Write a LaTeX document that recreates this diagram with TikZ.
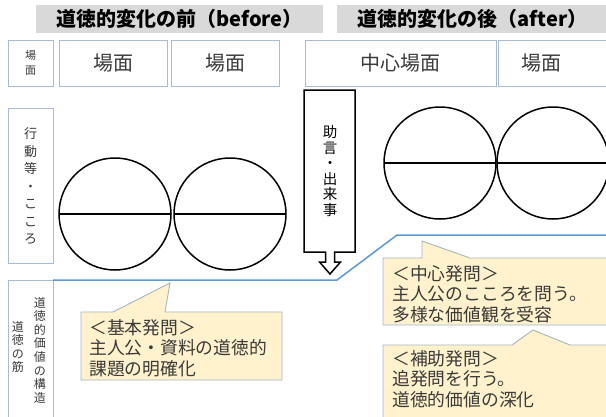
\documentclass[tikz,border=0pt]{standalone}
\usepackage{fontspec}
\setmainfont{Noto Sans CJK JP}
\definecolor{boxc}{HTML}{A7BBD3}
\definecolor{hdrgray}{HTML}{D9D9D9}
\definecolor{bline}{HTML}{5B9BD5}
\definecolor{callfill}{HTML}{FFF2CC}
\definecolor{calldraw}{HTML}{A3B5C8}
\definecolor{txtc}{HTML}{3A3A3A}
\begin{document}
\begin{tikzpicture}[x=1pt,y=-1pt,
  hdr/.style={fill=hdrgray, inner sep=0pt, outer sep=0pt, minimum height=28pt,
    font=\fontsize{20}{24}\selectfont\bfseries, text=black},
  scenebox/.style={draw=boxc, line width=0.9pt, fill=white, inner sep=0pt, outer sep=0pt,
    minimum height=46pt, font=\fontsize{20}{24}\selectfont, text=txtc},
  labbox/.style={draw=boxc, line width=0.9pt, fill=white, inner sep=0pt, outer sep=0pt,
    minimum width=45pt},
  vtxt/.style={align=center, inner sep=0pt, text=txtc},
  halfcirc/.style={circle, draw=black, line width=1.5pt, minimum size=112pt,
    inner sep=0pt, outer sep=0pt},
  diam/.style={line width=1.5pt, draw=black},
  callout/.style={fill=callfill, draw=calldraw, line width=0.9pt, line join=miter},
  calltxt/.style={align=left, anchor=west, inner sep=0pt, text=txtc,
    font=\fontsize{17.8}{20.5}\selectfont}
]
\clip (0,0) rectangle (606,416);
\fill[white] (0,0) rectangle (606,416);

% headers
\node[hdr, minimum width=287pt] (h1) at (179.5,19) {道徳的変化の前（before）};
\node[hdr, minimum width=271pt] (h2) at (472.5,19) {道徳的変化の後（after）};

% scene row
\node[scenebox, minimum width=45pt] (r0) at (30.5,63) {};
\node[vtxt, font=\fontsize{11}{15}\selectfont] (r0t) at (r0.center) {場\\面};
\node[scenebox, minimum width=108pt] (r1) at (113,63) {場面};
\node[scenebox, minimum width=108pt] (r2) at (225,63) {場面};
\node[scenebox, minimum width=191pt] (r3) at (400.5,63) {中心場面};
\node[scenebox, minimum width=118pt] (r4) at (557,63) {};
\node[inner sep=0pt, font=\fontsize{20}{24}\selectfont, text=txtc] (r4t) at (541,63) {場面};

% behaviour row label
\node[labbox, minimum height=155pt] (l2) at (30.5,185.5) {};
\node[vtxt, font=\fontsize{13}{17.5}\selectfont] (l2t) at (30.5,186) {行\\動\\等\\・\\こ\\こ\\ろ};

% circles before
\node[halfcirc] (c1) at (115,214) {};
\node[halfcirc] (c2) at (230,214) {};
\draw[diam] (c1.west) -- (c1.east);
\draw[diam] (c2.west) -- (c2.east);

% circles after
\node[halfcirc] (c3) at (440,163) {};
\node[halfcirc] (c4) at (553,163) {};
\draw[diam] (c3.west) -- (c3.east);
\draw[diam] (c4.west) -- (c4.east);

% advice / event block arrow
\draw[line width=1.5pt, fill=white, line join=miter]
  (304,90) -- (355,90) -- (355,252) -- (334.5,252) -- (334.5,262) -- (340.5,262)
  -- (330,274) -- (319.5,262) -- (325.5,262) -- (325.5,252) -- (304,252) -- cycle;
\node[vtxt, font=\fontsize{14.5}{15.5}\selectfont, text=black] (adv) at (330,171) {助\\言\\・\\出\\来\\事};

% moral structure row label
\node[labbox, minimum height=150pt] (l3) at (30.5,355) {};
\node[vtxt, font=\fontsize{12}{13.6}\selectfont] (l3a) at (40,350) {道\\徳\\的\\価\\値\\の\\構\\造};
\node[vtxt, font=\fontsize{12}{13.6}\selectfont] (l3b) at (18,347) {道\\徳\\の\\筋};

% blue moral line
\coordinate (b0) at (53,280);
\coordinate (b1) at (337,280);
\coordinate (b2) at (397,235);
\coordinate (b3) at (610,235);
\draw[bline, line width=1.5pt] (b0) -- (b1) -- (b2) -- (b3);

% callout 1
\draw[callout] (81,312) -- (113,312) -- (170,283) -- (165,312) -- (282,312)
  -- (282,380) -- (81,380) -- cycle;
\node[calltxt] (k1) at (89,348) {＜基本発問＞\\主人公・資料の道徳的\\課題の明確化};

% callout 2
\draw[callout] (383,258) -- (422,258) -- (422,241) -- (470,258) -- (612,258)
  -- (612,325) -- (383,325) -- cycle;
\node[calltxt] (k2) at (392,294) {＜中心発問＞\\主人公のこころを問う。\\多様な価値観を受容};

% callout 3
\draw[callout] (383,345) -- (512,345) -- (533,330) -- (570,345) -- (612,345)
  -- (612,422) -- (383,422) -- cycle;
\node[calltxt] (k3) at (392,379) {＜補助発問＞\\追発問を行う。\\道徳的価値の深化};
\end{tikzpicture}
\end{document}
